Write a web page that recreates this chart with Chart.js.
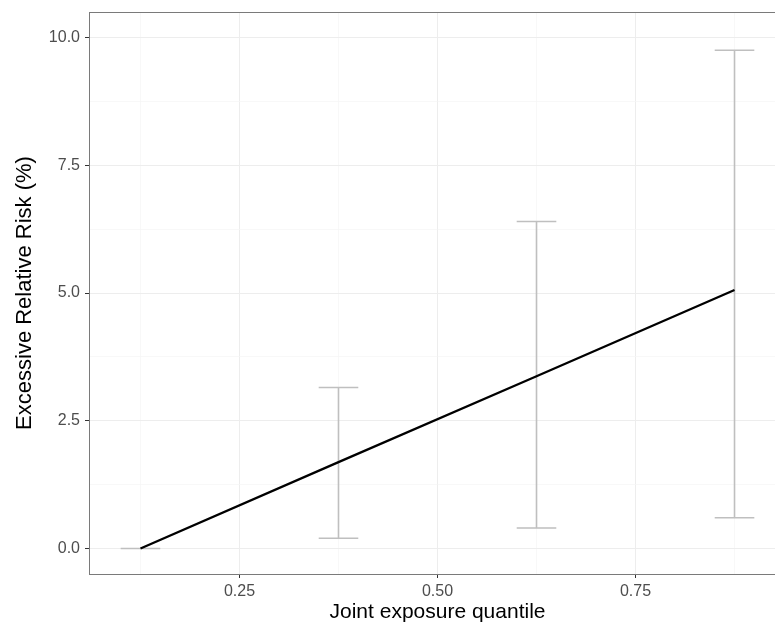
<!DOCTYPE html>
<html>
<head>
<meta charset="utf-8">
<script src="https://cdn.jsdelivr.net/npm/chart.js@4/dist/chart.umd.min.js"></script>
<style>
  html, body { margin: 0; padding: 0; background: #fff; overflow: hidden; }
  #wrap { position: relative; width: 790px; height: 626px; }
</style>
</head>
<body>
<div id="wrap"><canvas id="chart"></canvas></div>
<script>
// data
const quantiles = [0.125, 0.375, 0.625, 0.875];
const fitValues = [0, 1.69, 3.37, 5.06];
const errLower = [0, 0.2, 0.4, 0.6];
const errUpper = [0, 3.15, 6.4, 9.75];
const capHalfWidth = 0.025;

const xMajorTicks = [0.25, 0.5, 0.75];
const xMinorTicks = [0.125, 0.375, 0.625, 0.875];
const yMajorTicks = [0, 2.5, 5, 7.5, 10];
const yMinorTicks = [1.25, 3.75, 6.25, 8.75];

// fitted line points
const linePoints = quantiles.map((q, i) => ({ x: q, y: fitValues[i] }));

// error bars as one broken line: top cap, stem, bottom cap, with gaps between
const errorBarPoints = [];
quantiles.forEach((q, i) => {
  errorBarPoints.push(
    { x: q - capHalfWidth, y: errUpper[i] }, { x: q + capHalfWidth, y: errUpper[i] }, { x: q, y: null },
    { x: q, y: errUpper[i] }, { x: q, y: errLower[i] }, { x: q, y: null },
    { x: q - capHalfWidth, y: errLower[i] }, { x: q + capHalfWidth, y: errLower[i] }, { x: q, y: null }
  );
});

const fontFamily = "'Liberation Sans', Arial, sans-serif";
const tickFont = { family: fontFamily, size: 16 };

// panel border on all four sides, like ggplot theme_bw
const panelBorder = {
  id: 'panelBorder',
  afterDatasetsDraw(chart) {
    const { ctx, chartArea: a } = chart;
    ctx.save();
    ctx.strokeStyle = '#7a7a7a';
    ctx.lineWidth = 1;
    ctx.strokeRect(Math.round(a.left) + 0.5, Math.round(a.top) + 0.5, Math.round(a.right - a.left), Math.round(a.bottom - a.top));
    ctx.restore();
  }
};

function gridOpts(majors) {
  return {
    drawOnChartArea: true,
    drawTicks: true,
    tickLength: 4,
    color: ctx => (ctx.tick && majors.includes(ctx.tick.value)) ? '#ededed' : '#f5f5f5',
    lineWidth: ctx => (ctx.tick && majors.includes(ctx.tick.value)) ? 1 : 0.7,
    tickColor: ctx => (ctx.tick && majors.includes(ctx.tick.value)) ? '#333333' : 'rgba(0,0,0,0)',
    tickWidth: 1
  };
}

// keep the axes from pushing the panel inward for their edge labels
function noEdgePadding(scale) {
  scale.paddingTop = 0;
  scale.paddingBottom = 0;
  scale.paddingLeft = 0;
  scale.paddingRight = 0;
}

new Chart(document.getElementById('chart'), {
  type: 'line',
  data: {
    datasets: [
      {
        data: linePoints,
        borderColor: '#000000',
        borderWidth: 2.3,
        pointRadius: 0,
        tension: 0
      },
      {
        data: errorBarPoints,
        borderColor: '#bfbfbf',
        borderWidth: 1.6,
        pointRadius: 0,
        spanGaps: false,
        tension: 0
      }
    ]
  },
  options: {
    responsive: true,
    maintainAspectRatio: false,
    animation: false,
    layout: { padding: { top: 12, right: 4, left: 0, bottom: 0 } },
    plugins: { legend: { display: false }, tooltip: { enabled: false } },
    scales: {
      x: {
        type: 'linear',
        min: 0.06,
        max: 0.94,
        afterBuildTicks: scale => {
          scale.ticks = [...xMajorTicks, ...xMinorTicks].sort((a, b) => a - b).map(v => ({ value: v }));
        },
        afterFit: scale => { scale.height = 52; noEdgePadding(scale); },
        border: { display: false },
        grid: gridOpts(xMajorTicks),
        ticks: {
          autoSkip: false,
          maxRotation: 0,
          padding: 4,
          color: '#4d4d4d',
          font: tickFont,
          callback: v => xMajorTicks.includes(v) ? v.toFixed(2) : ''
        },
        title: {
          display: true,
          text: 'Joint exposure quantile',
          color: '#000000',
          font: { family: fontFamily, size: 21 },
          padding: { top: 0, bottom: 1 }
        }
      },
      y: {
        type: 'linear',
        min: -0.5,
        max: 10.5,
        afterBuildTicks: scale => {
          scale.ticks = [...yMajorTicks, ...yMinorTicks].sort((a, b) => a - b).map(v => ({ value: v }));
        },
        afterFit: scale => { scale.width = 89; noEdgePadding(scale); },
        border: { display: false },
        grid: gridOpts(yMajorTicks),
        ticks: {
          autoSkip: false,
          padding: 5,
          color: '#4d4d4d',
          font: tickFont,
          callback: v => yMajorTicks.includes(v) ? v.toFixed(1) : ''
        },
        title: {
          display: true,
          text: 'Excessive Relative Risk (%)',
          color: '#000000',
          font: { family: fontFamily, size: 22 },
          padding: { top: 12, bottom: 0 }
        }
      }
    }
  },
  plugins: [panelBorder]
});
</script>
</body>
</html>
